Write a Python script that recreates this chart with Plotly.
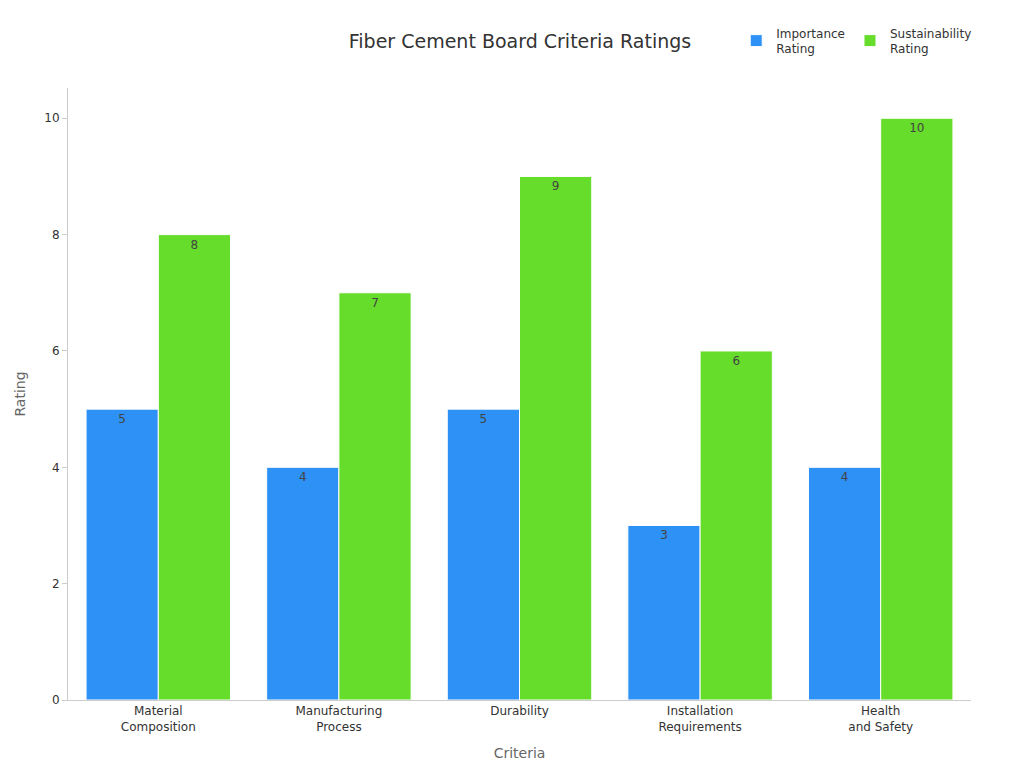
import plotly.graph_objects as go

criteria = ["Material<br>Composition", "Manufacturing<br>Process", "Durability",
            "Installation<br>Requirements", "Health<br>and Safety"]
importance = [5, 4, 5, 3, 4]
sustainability = [8, 7, 9, 6, 10]

fig = go.Figure()
fig.add_trace(go.Bar(x=criteria, y=importance, name="Importance<br>Rating",
                     marker=dict(color="#2E91F5", line=dict(color="white", width=1)),
                     text=importance, textposition="inside", insidetextanchor="end",
                     textfont=dict(color="#444", size=12)))
fig.add_trace(go.Bar(x=criteria, y=sustainability, name="Sustainability<br>Rating",
                     marker=dict(color="#66DD2A", line=dict(color="white", width=1)),
                     text=sustainability, textposition="inside", insidetextanchor="end",
                     textfont=dict(color="#444", size=12)))

fig.update_layout(
    width=1024, height=768,
    font=dict(family="DejaVu Sans", size=12, color="#333"),
    title=dict(text="Fiber Cement Board Criteria Ratings", x=0.5, y=0.957,
               xanchor="center", yanchor="middle", font=dict(size=19, color="#333")),
    plot_bgcolor="white", paper_bgcolor="white",
    margin=dict(l=60, r=61, t=80, b=76, autoexpand=False),
    bargap=0.2, bargroupgap=0,
    legend=dict(orientation="h", x=0.74, y=1.04, xanchor="left", yanchor="bottom",
                font=dict(size=12)),
    xaxis=dict(title=dict(text="Criteria", font=dict(size=14, color="#666")),
               showline=True, linecolor="#ccc", ticks=""),
    yaxis=dict(title=dict(text="Rating", font=dict(size=14, color="#666")),
               range=[0, 10.52], dtick=2, showgrid=False, showline=True,
               linecolor="#ccc", ticks="outside", tickcolor="#ccc", ticklen=5,
               zeroline=False),
    uniformtext=dict(minsize=12, mode="show"),
)

fig.write_html("out.html")
